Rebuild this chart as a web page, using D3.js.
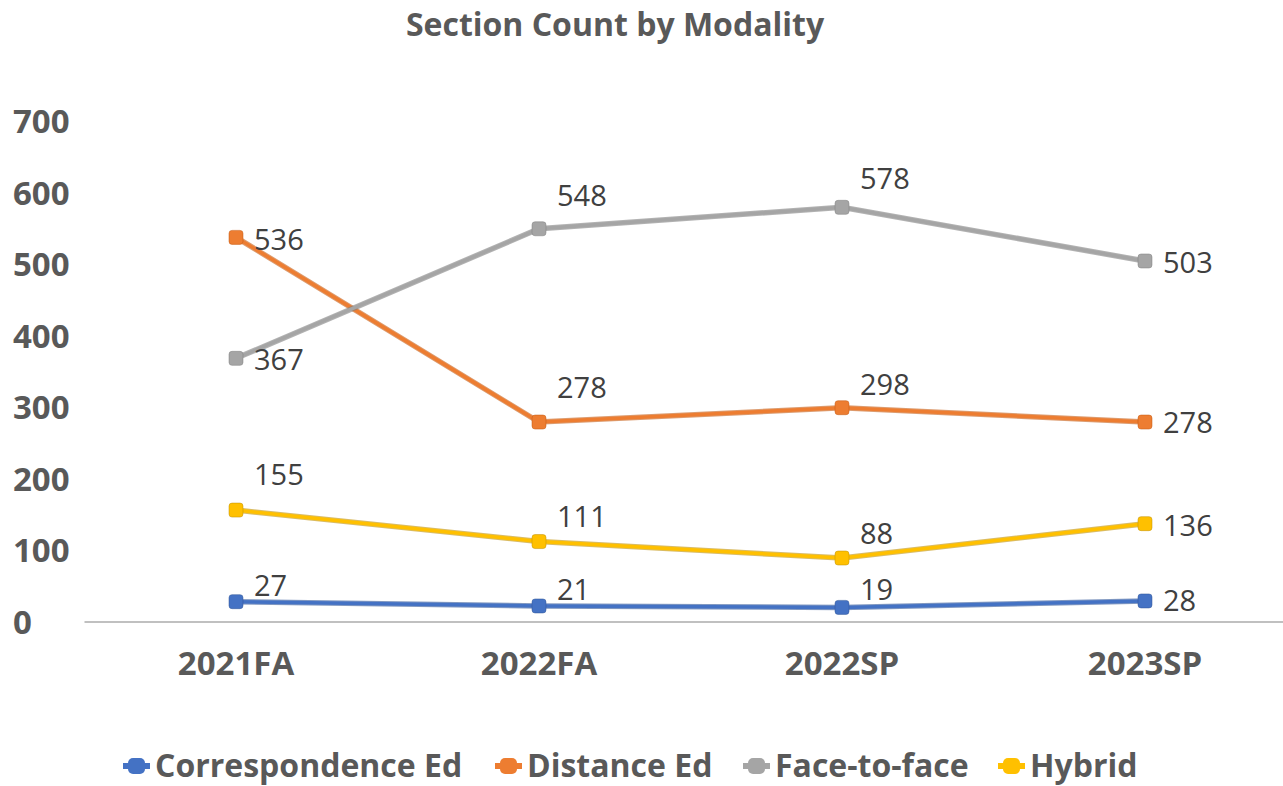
<!DOCTYPE html>
<html>
<head>
<meta charset="utf-8">
<script src="https://cdn.jsdelivr.net/npm/d3@7"></script>
<style>
  body { margin: 0; background: #fff; }
  svg { display: block; font-family: "Open Sans", sans-serif; }
</style>
</head>
<body>
<svg id="chart" width="1283" height="786"></svg>
<script>
// data
const categories = ['2021FA', '2022FA', '2022SP', '2023SP'];
const seriesNames = ['Correspondence Ed', 'Distance Ed', 'Face-to-face', 'Hybrid'];
const correspondence = [27, 21, 19, 28];
const distance = [536, 278, 298, 278];
const faceToFace = [367, 548, 578, 503];
const hybrid = [155, 111, 88, 136];
const yTicks = [0, 100, 200, 300, 400, 500, 600, 700];

const seriesValues = [correspondence, distance, faceToFace, hybrid];
const colors = ['#4472C4', '#ED7D31', '#A5A5A5', '#FFC000'];
const edges = ['#2f5597', '#c55a11', '#7f7f7f', '#bf9000'];

// vertical label shift from point (px), per series / category
const labelDy = [
  [-6, -6, -7, 10],
  [13, -24, -13, 11],
  [12, -23, -18, 12],
  [-25, -15, -14, 12]
];

const svg = d3.select('#chart');
const width = +svg.attr('width');

const margin = { left: 84.5 };
const xScale = d3.scaleBand()
  .domain(categories)
  .range([margin.left, margin.left + 303 * 4]);
const yScale = d3.scaleLinear()
  .domain([0, 700])
  .range([621, 120]);
const cx = c => xScale(c) + xScale.bandwidth() / 2;

// title
svg.append('text')
  .attr('x', 615)
  .attr('y', 36)
  .attr('text-anchor', 'middle')
  .attr('fill', '#595959')
  .attr('font-size', 32)
  .attr('font-weight', 'bold')
  .text('Section Count by Modality');

// y axis labels
const yAxisG = svg.append('g')
  .call(d3.axisLeft(yScale).tickValues(yTicks).tickSize(0));
yAxisG.select('.domain').remove();
yAxisG.selectAll('text')
  .attr('x', 13)
  .attr('dy', '0.38em')
  .attr('text-anchor', 'start')
  .attr('fill', '#595959')
  .attr('font-size', 33)
  .attr('font-weight', 'bold')
  .attr('font-family', '"Open Sans", sans-serif');

// x axis
const xAxisG = svg.append('g')
  .attr('transform', `translate(0,${yScale(0) + 1})`)
  .call(d3.axisBottom(xScale).tickSize(0).tickPadding(30));
xAxisG.select('.domain')
  .attr('stroke', '#c0c0c0')
  .attr('stroke-width', 2)
  .attr('d', `M${margin.left},0H${width}`);
xAxisG.selectAll('text')
  .attr('fill', '#595959')
  .attr('font-size', 33)
  .attr('font-weight', 'bold')
  .attr('font-family', '"Open Sans", sans-serif');

const line = d3.line()
  .x((d, i) => cx(categories[i]))
  .y(d => yScale(d));

const g = svg.append('g');
seriesValues.forEach((vals, s) => {
  g.append('path')
    .datum(vals)
    .attr('fill', 'none')
    .attr('stroke', edges[s])
    .attr('stroke-opacity', 0.6)
    .attr('stroke-width', 5.5)
    .attr('d', line);
  g.append('path')
    .datum(vals)
    .attr('fill', 'none')
    .attr('stroke', colors[s])
    .attr('stroke-width', 3.5)
    .attr('d', line);
  g.selectAll(null).data(vals)
    .enter().append('rect')
      .attr('x', (d, i) => cx(categories[i]) - 7)
      .attr('y', d => yScale(d) - 7)
      .attr('width', 14)
      .attr('height', 14)
      .attr('rx', 3)
      .attr('fill', colors[s])
      .attr('stroke', edges[s])
      .attr('stroke-opacity', 0.5)
      .attr('stroke-width', 1);
});

// data labels
seriesValues.forEach((vals, s) => {
  g.selectAll(null).data(vals)
    .enter().append('text')
      .attr('x', (d, i) => cx(categories[i]) + 18)
      .attr('y', (d, i) => yScale(d) + labelDy[s][i])
      .attr('fill', '#404040')
      .attr('font-size', 29)
      .text(d => d);
});

// legend
const legendX = [123, 495, 743, 998];
const legend = svg.append('g');
seriesNames.forEach((name, s) => {
  const lg = legend.append('g').attr('transform', `translate(${legendX[s]},766)`);
  lg.append('line')
    .attr('x1', 0).attr('x2', 27)
    .attr('stroke', colors[s])
    .attr('stroke-width', 6);
  lg.append('rect')
    .attr('x', 5).attr('y', -8)
    .attr('width', 17).attr('height', 16)
    .attr('rx', 5)
    .attr('fill', colors[s]);
  lg.append('text')
    .attr('x', 32)
    .attr('dy', '0.34em')
    .attr('fill', '#595959')
    .attr('font-size', 32)
    .attr('font-weight', 'bold')
    .text(name);
});
</script>
</body>
</html>
